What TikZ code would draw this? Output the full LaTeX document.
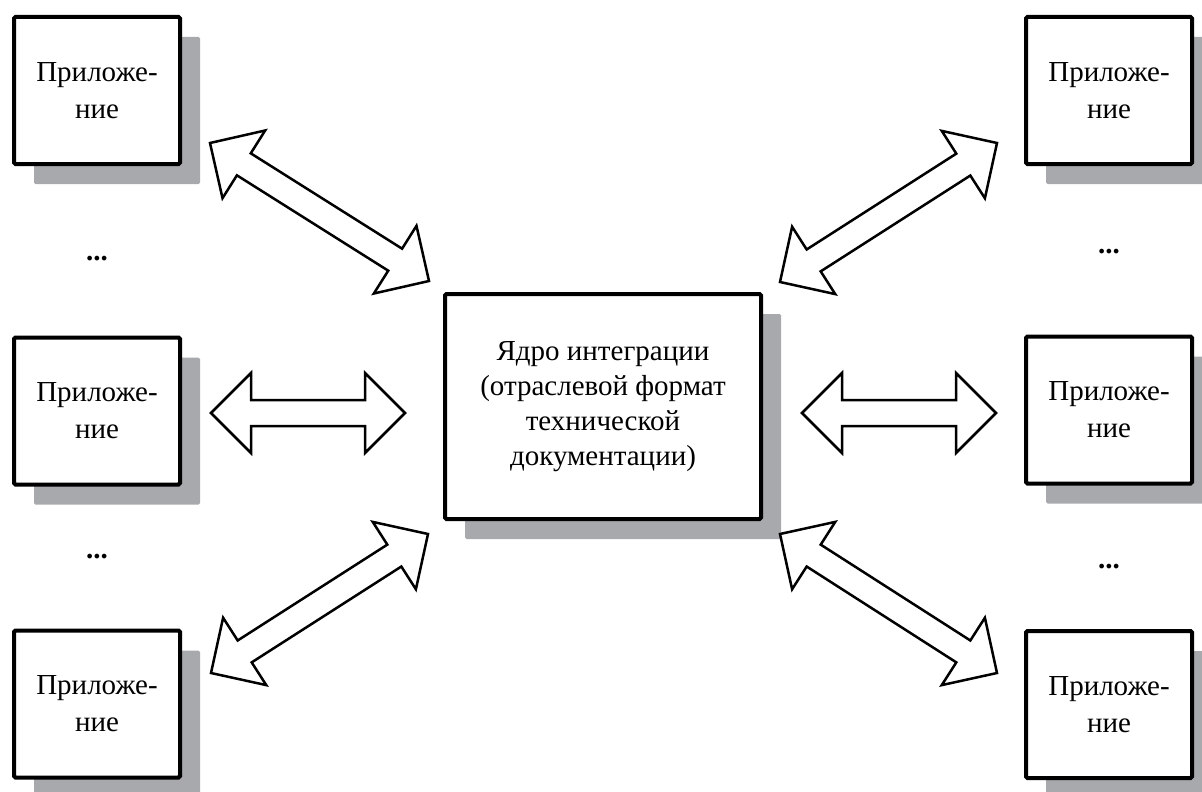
\documentclass[tikz,border=0pt]{standalone}
\usepackage{fontspec}
\setmainfont{Liberation Serif}
\usetikzlibrary{calc,shadows,positioning}
\definecolor{shadowgray}{RGB}{167,169,172}
\tikzset{
	app/.style={
		rectangle,
		draw=black,
		line width=4pt,
		rounded corners=1.5pt,
		fill=white,
		minimum width=166pt,
		minimum height=147pt,
		align=center,
		font=\fontsize{29}{37}\selectfont,
		drop shadow={shadow xshift=20pt,shadow yshift=-20pt,fill=shadowgray,opacity=1}
	},
	core/.style={
		app,
		minimum width=316pt,
		minimum height=225pt,
		font=\fontsize{29}{35}\selectfont
	},
	dots/.style={
		font=\fontsize{29}{35}\selectfont\bfseries,
		anchor=base,
		inner sep=0pt
	},
	fat/.style={
		draw=black,
		fill=white,
		line width=2.5pt,
		line join=miter
	}
}
% double block arrow between two named points
\newcommand\blockarrow[2]{%
	\path ($(#1)!40pt!(#2)$) coordinate (ha) ($(#2)!40pt!(#1)$) coordinate (hb);
	\draw[fat] (#1) -- ($(ha)!40pt!90:(#2)$) -- ($(ha)!13pt!90:(#2)$) -- ($(hb)!13pt!-90:(#1)$)
		-- ($(hb)!40pt!-90:(#1)$) -- (#2) -- ($(hb)!40pt!90:(#1)$) -- ($(hb)!13pt!90:(#1)$)
		-- ($(ha)!13pt!-90:(#2)$) -- ($(ha)!40pt!-90:(#2)$) -- cycle;
}

\begin{document}
\begin{tikzpicture}[x=1pt,y=-1pt]
	\useasboundingbox (0,0) rectangle (1202,792);
	\node [core] (core) at (603,406.5) {Ядро интеграции\\(отраслевой формат\\технической\\документации)};
	\node [app] (l1) at (97,90.5) {Приложе-\\ние};
	\node [app] (l2) at (97,411) {Приложе-\\ние};
	\node [app] (l3) at (97,704) {Приложе-\\ние};
	\node [app] (r1) at (1109,90.5) {Приложе-\\ние};
	\node [app] (r2) at (1109,410) {Приложе-\\ние};
	\node [app] (r3) at (1109,704.5) {Приложе-\\ние};
	\node [dots] (ld1) at (97,260) {...};
	\node [dots] (ld2) at (97,558) {...};
	\node [dots] (rd1) at (1109,253) {...};
	\node [dots] (rd2) at (1109,568) {...};
	\coordinate (tl1) at (210,143);
	\coordinate (tl2) at (429,281);
	\coordinate (tr1) at (780,282);
	\coordinate (tr2) at (997,143);
	\coordinate (ml1) at (211,413);
	\coordinate (ml2) at (405,413);
	\coordinate (mr1) at (802,413);
	\coordinate (mr2) at (996,413);
	\coordinate (bl1) at (211,673);
	\coordinate (bl2) at (428,534);
	\coordinate (br1) at (780,534);
	\coordinate (br2) at (997,673);
	\blockarrow{tl1}{tl2}
	\blockarrow{tr1}{tr2}
	\blockarrow{ml1}{ml2}
	\blockarrow{mr1}{mr2}
	\blockarrow{bl1}{bl2}
	\blockarrow{br1}{br2}
\end{tikzpicture}
\end{document}
